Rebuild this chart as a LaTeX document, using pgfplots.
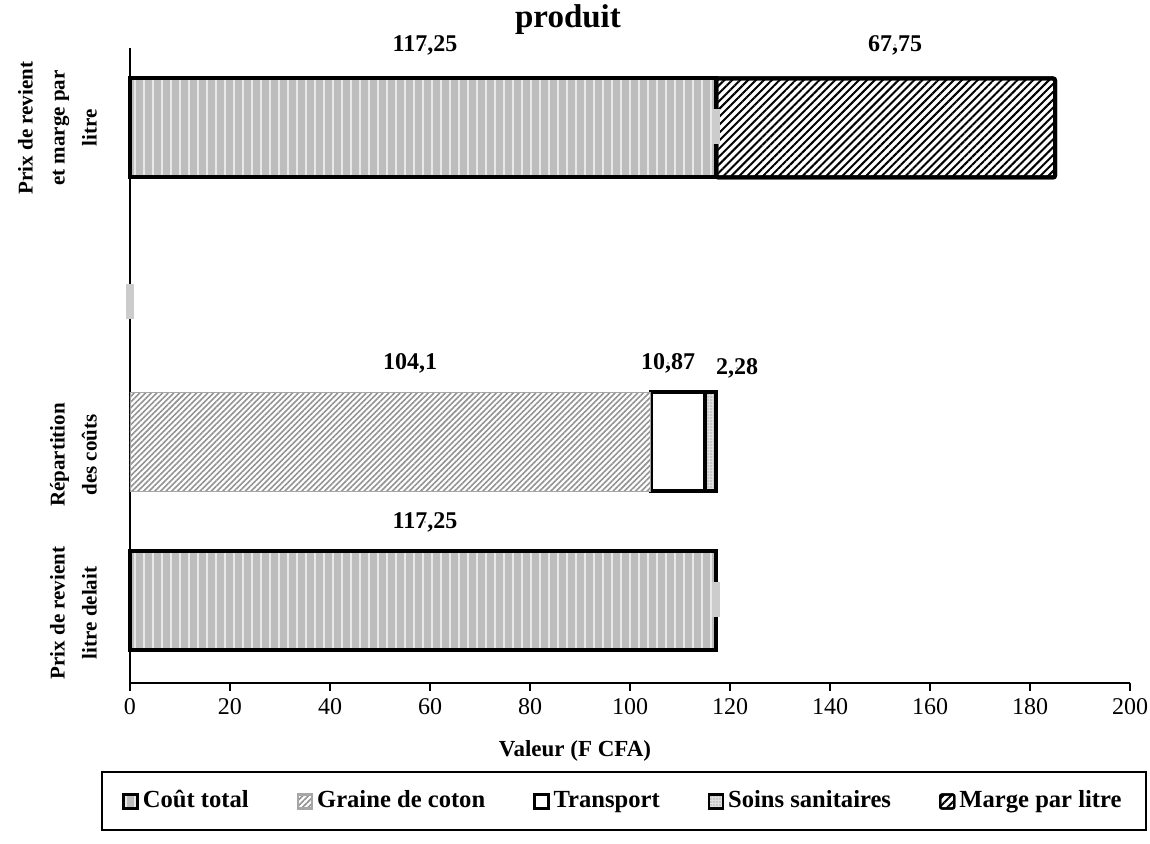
\documentclass[border=0pt]{standalone}
\usepackage{pgfplots}
\pgfplotsset{compat=1.18}
\usepackage{fontspec}
\setmainfont{Liberation Serif}
\usetikzlibrary{patterns.meta}

\pgfdeclareplotmark{stub}{\pgfpathrectangle{\pgfqpoint{-2pt}{-8.75pt}}{\pgfqpoint{4pt}{17.5pt}}\pgfusepathqfill}

\begin{document}
\begin{tikzpicture}
\useasboundingbox (-65pt,-80.5pt) rectangle (510pt,341.5pt);
\begin{axis}[
  scale only axis, width=500pt, height=317.5pt,
  xmin=0, xmax=200, ymin=0, ymax=635,
  xbar stacked, bar width=49.5pt,
  axis x line*=bottom, axis y line*=left,
  axis line style={-},
  x axis line style={line width=1.4pt},
  y axis line style={line width=0.8pt},
  xtick={0,20,...,200},
  ytick={70,228,555},
  yticklabels={{Prix de revient\\litre delait},{Répartition\\des coûts},{Prix de revient\\et marge par\\litre}},
  tick align=outside,
  major tick length=4pt,
  xtick style={black, line width=1pt},
  ytick style={draw=none},
  /pgf/number format/assume math mode=true,
  xticklabel style={font=\fontsize{12}{14}\selectfont},
  yticklabel style={xshift=-9pt, rotate=90, font=\bfseries\fontsize{10.5}{16}\selectfont, align=center, anchor=south},
  xlabel={Valeur (F CFA)},
  xlabel style={font=\bfseries\fontsize{11.5}{14}\selectfont, at={(0.445,-0.1165)}, anchor=base},
  title={produit},
  title style={font=\bfseries\fontsize{16.5}{20}\selectfont, at={(0.438,1.0126)}, anchor=base},
  clip=false,
  legend columns=5,
  legend style={at={(0.494,-0.1866)}, anchor=center, draw=black, line width=1pt,
    font=\bfseries\fontsize{12.3}{14}\selectfont, inner xsep=10pt, inner ysep=7pt,
    nodes={text height=8.5pt, text depth=2.5pt},
    /tikz/every even column/.append style={column sep=22pt}},
  legend image code/.code={\draw[#1, line width=1.2pt] (0pt,-3.5pt) rectangle (7pt,3.5pt);},
]
\addplot[fill=gray!52, draw=black, line width=2pt,
  postaction={pattern={Lines[angle=90,distance=4.5pt,line width=1.3pt]}, pattern color=gray!18}]
  coordinates {(117.25,82) (0,241) (117.25,555)};
\addplot[fill=white, draw=gray!70, line width=0.4pt,
  postaction={pattern={Lines[angle=45,distance=2pt,line width=0.8pt]}, pattern color=gray!85}]
  coordinates {(0,82) (104.1,241) (0,555)};
\addplot[fill=white, draw=black, line width=2pt]
  coordinates {(0,82) (10.87,241) (0,555)};
\addplot[fill=gray!25, draw=black, line width=2pt,
  postaction={pattern={Dots[distance=1.5pt,radius=0.4pt]}, pattern color=gray!60}]
  coordinates {(0,82) (2.28,241) (0,555)};
\addplot[fill=white, draw=black, line width=2pt, rounded corners=1pt,
  postaction={pattern={Lines[angle=45,distance=2.8pt,line width=1pt]}, pattern color=black}]
  coordinates {(0,82) (0,241) (67.75,555)};
\legend{Coût total, Graine de coton, Transport, Soins sanitaires, Marge par litre}
\end{axis}
\begin{axis}[
  scale only axis, width=500pt, height=317.5pt,
  xmin=0, xmax=200, ymin=0, ymax=635,
  hide axis, clip=false,
  every node near coord/.append style={anchor=center, font=\bfseries\fontsize{12}{14}\selectfont},
]
\addplot[only marks, mark=stub, mark options={fill=gray!40}]
  coordinates {(117.25,556) (0,381) (117.25,83)};
\addplot[only marks, mark=*, mark size=0.01pt, mark options={draw=none, fill=none},
  nodes near coords, point meta=explicit symbolic]
  table[x=x, y=y, meta=lab] {
x y lab
59 638 117,25
153 638 67,75
56 320 104,1
107.6 320 10,87
121.4 315 2,28
59 161 117,25
};
\end{axis}
\end{tikzpicture}
\end{document}
